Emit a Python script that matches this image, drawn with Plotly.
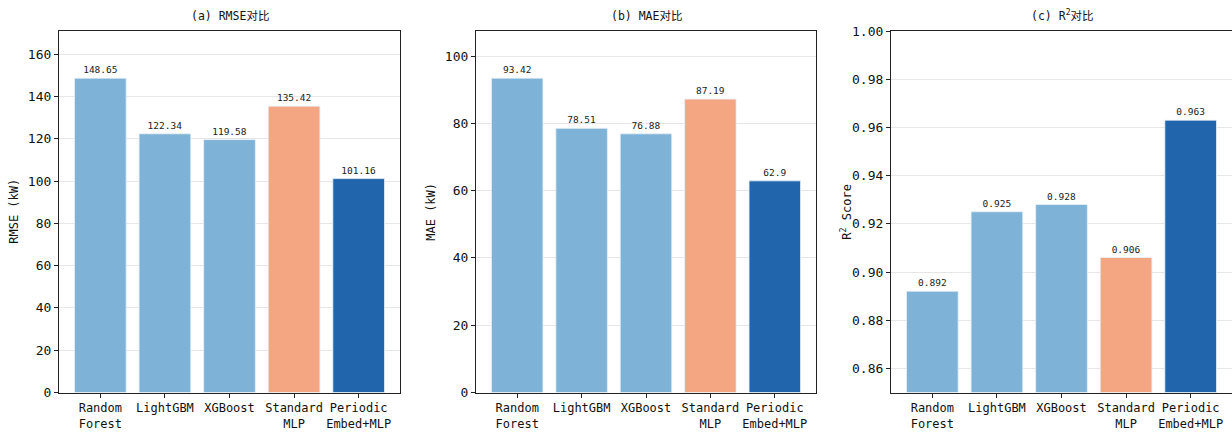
import plotly.graph_objects as go

models = ["Random<br>Forest", "LightGBM", "XGBoost", "Standard<br>MLP", "Periodic<br>Embed+MLP"]
rmse = [148.65, 122.34, 119.58, 135.42, 101.16]
mae = [93.42, 78.51, 76.88, 87.19, 62.9]
r2 = [0.892, 0.925, 0.928, 0.906, 0.963]
bar_colors = ["#7fb2d7", "#7fb2d7", "#7fb2d7", "#f4a582", "#2166ac"]

titles = ["(a) RMSE对比", "(b) MAE对比", "(c) R<sup>2</sup>对比"]
ytitles = ["RMSE (kW)", "MAE (kW)", "R<sup>2</sup> Score"]
yranges = [[0, max(rmse) * 1.15], [0, max(mae) * 1.15], [0.85, 1.0]]
ytickvals = [list(range(0, 161, 20)), list(range(0, 101, 20)),
             [0.86, 0.88, 0.90, 0.92, 0.94, 0.96, 0.98, 1.00]]
yticktext = [None, None, ["0.86", "0.88", "0.90", "0.92", "0.94", "0.96", "0.98", "1.00"]]

W, H = 1232, 434
xdoms = [(59, 400), (476, 816), (891, 1232)]
ytop, ybot = 31, 392.5
ydom = [(H - ybot) / H, (H - ytop) / H]

MONO = "DejaVu Sans Mono, Noto Sans CJK SC"

fig = go.Figure()
series = [rmse, mae, r2]
for i, vals in enumerate(series):
    ax = "" if i == 0 else str(i + 1)
    base = yranges[i][0]
    fig.add_trace(go.Bar(
        x=list(range(len(models))), y=[v - base for v in vals], base=base,
        marker=dict(color=bar_colors, line=dict(color="#e8f0f8", width=0.8)),
        text=[str(v) for v in vals], textposition="outside",
        textfont=dict(family=MONO, size=9.5, color="#222"),
        cliponaxis=False, width=0.8,
        xaxis="x" + ax, yaxis="y" + ax, showlegend=False,
    ))

layout = dict(
    width=W, height=H, margin=dict(l=0, r=0, t=0, b=0),
    plot_bgcolor="white", paper_bgcolor="white",
    font=dict(family=MONO, size=12, color="#111"),
)
annotations = []
for i in range(3):
    ax = "" if i == 0 else str(i + 1)
    x0, x1 = xdoms[i]
    layout["xaxis" + ax] = dict(
        domain=[x0 / W, x1 / W], range=[-0.64, 4.64],
        tickmode="array", tickvals=list(range(5)), ticktext=models,
        ticks="outside", ticklen=4, tickcolor="#222",
        showline=True, linecolor="#222", linewidth=1.2, mirror=True,
        showgrid=False, zeroline=False, anchor="y" + ax, automargin=False,
        tickfont=dict(family=MONO, size=12),
    )
    ydict = dict(
        domain=ydom, range=yranges[i], anchor="x" + ax, automargin=False,
        tickmode="array", tickvals=ytickvals[i],
        ticks="outside", ticklen=4, tickcolor="#222",
        showline=True, linecolor="#222", linewidth=1.2, mirror=True,
        showgrid=True, gridcolor="#e6e6e6", gridwidth=1, zeroline=False,
        tickfont=dict(family=MONO, size=13),
    )
    if yticktext[i]:
        ydict["ticktext"] = yticktext[i]
    layout["yaxis" + ax] = ydict
    annotations.append(dict(
        text=titles[i], x=(x0 + x1) / 2 / W, y=(H - 16) / H,
        xref="paper", yref="paper", showarrow=False,
        font=dict(family=MONO, size=11.5, color="#111"), xanchor="center", yanchor="middle",
    ))
    annotations.append(dict(
        text=ytitles[i], x=(x0 - 45) / W, y=(ydom[0] + ydom[1]) / 2,
        xref="paper", yref="paper", showarrow=False, textangle=-90,
        font=dict(family=MONO, size=12, color="#111"), xanchor="center", yanchor="middle",
    ))
layout["annotations"] = annotations
fig.update_layout(**layout)
fig.write_html("out.html", config={"displayModeBar": False},
               post_script="document.body.style.margin='0';document.body.style.overflow='hidden';")
